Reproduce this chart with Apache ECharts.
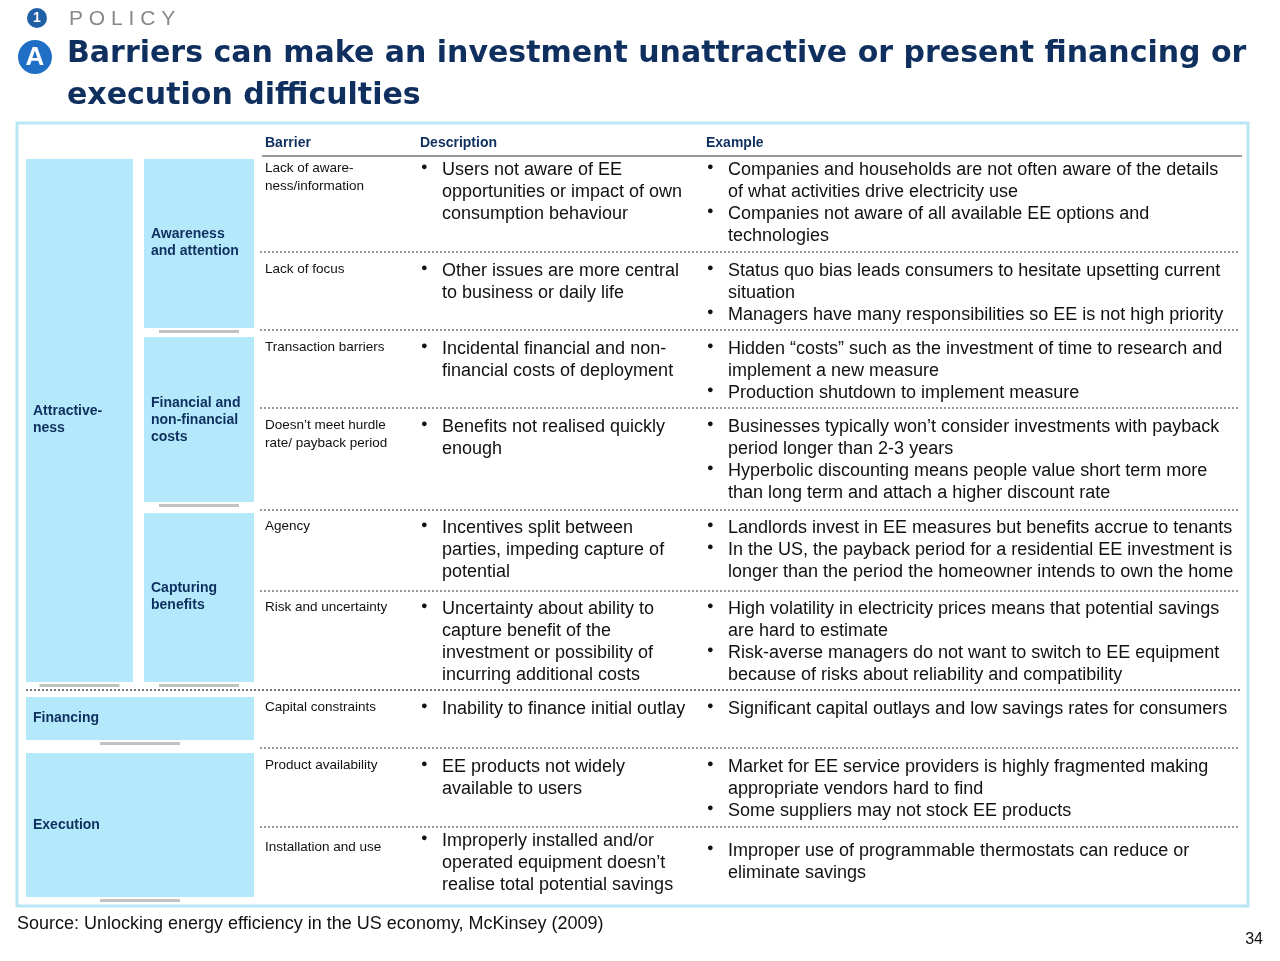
<!DOCTYPE html>
<html><head><meta charset="utf-8">
<script src="https://cdn.jsdelivr.net/npm/echarts@6/dist/echarts.min.js"></script>
<style>html,body{margin:0;padding:0;background:#fff}#c{width:1280px;height:961px}</style>
</head><body><div id="c"></div>
<script>
const titleLines = ["Barriers can make an investment unattractive or present financing or", "execution difficulties"];
const headers = ["Barrier", "Description", "Example"];
const groups = [
  {label:"Attractive-\nness", x0:26, x1:133, y0:159, y1:682, ly:420},
  {label:"Awareness\nand attention", x0:144, x1:254, y0:159, y1:328, ly:243},
  {label:"Financial and\nnon-financial\ncosts", x0:144, x1:254, y0:337, y1:502, ly:420},
  {label:"Capturing\nbenefits", x0:144, x1:254, y0:513, y1:682, ly:597},
  {label:"Financing", x0:26, x1:254, y0:697, y1:740, ly:718},
  {label:"Execution", x0:26, x1:254, y0:753, y1:897, ly:825}
];
const barriers = ["Lack of aware-\nness/information","Lack of focus","Transaction barriers","Doesn\u2019t meet hurdle\nrate/ payback period","Agency","Risk and uncertainty","Capital constraints","Product availability","Installation and use"];
const descriptions = [
  ["Users not aware of EE\nopportunities or impact of own\nconsumption behaviour"],
  ["Other issues are more central\nto business or daily life"],
  ["Incidental financial and non-\nfinancial costs of deployment"],
  ["Benefits not realised quickly\nenough"],
  ["Incentives split between\nparties, impeding capture of\npotential"],
  ["Uncertainty about ability to\ncapture benefit of the\ninvestment or possibility of\nincurring additional costs"],
  ["Inability to finance initial outlay"],
  ["EE products not widely\navailable to users"],
  ["Improperly installed and/or\noperated equipment doesn\u2019t\nrealise total potential savings"]
];
const examples = [
  ["Companies and households are not often aware of the details\nof what activities drive electricity use","Companies not aware of all available EE options and\ntechnologies"],
  ["Status quo bias leads consumers to hesitate upsetting current\nsituation","Managers have many responsibilities so EE is not high priority"],
  ["Hidden \u201ccosts\u201d such as the investment of time to research and\nimplement a new measure","Production shutdown to implement measure"],
  ["Businesses typically won\u2019t consider investments with payback\nperiod longer than 2-3 years","Hyperbolic discounting means people value short term more\nthan long term and attach a higher discount rate"],
  ["Landlords invest in EE measures but benefits accrue to tenants","In the US, the payback period for a residential EE investment is\nlonger than the period the homeowner intends to own the home"],
  ["High volatility in electricity prices means that potential savings\nare hard to estimate","Risk-averse managers do not want to switch to EE equipment\nbecause of risks about reliability and compatibility"],
  ["Significant capital outlays and low savings rates for consumers"],
  ["Market for EE service providers is highly fragmented making\nappropriate vendors hard to find","Some suppliers may not stock EE products"],
  ["Improper use of programmable thermostats can reduce or\neliminate savings"]
];
const rowTops = [159,260,338,416,517,598,698,756,830];
const rowOffsets = [[0,0,0],[0,0,0],[0,0,0],[0,0,0],[0,0,0],[0,0,0],[0,0,0],[0,0,0],[8,0,10]];
const dividers = [252,330,408,510,591,748,827];
const source = "Source: Unlocking energy efficiency in the US economy, McKinsey (2009)";
const pageNo = "34";

const NAVY = "#0f2f5f", CYAN = "#b3e9fb", BODY = "#111", FONT = "Liberation Sans, Arial, sans-serif";
const LH = 22;
const g = [];
g.push({type:'circle',shape:{cx:37,cy:18,r:10},style:{fill:'#1f5fa6'}});
g.push({type:'text',x:37,y:18,style:{text:'1',fill:'#fff',font:'bold 14px '+FONT,align:'center',verticalAlign:'middle'}});
g.push({type:'text',x:69,y:19,style:{text:'P O L I C Y',fill:'#888',font:'21px '+FONT,verticalAlign:'middle'}});
g.push({type:'circle',shape:{cx:35,cy:57,r:17},style:{fill:'#1f6fc6'}});
g.push({type:'text',x:35,y:58,style:{text:'A',fill:'#fff',font:'bold 26px '+FONT,align:'center',verticalAlign:'middle'}});
titleLines.forEach((t,i)=>g.push({type:'text',x:67,y:54+i*42,style:{text:t,fill:NAVY,font:'bold 30px "DejaVu Sans", Verdana, sans-serif',verticalAlign:'middle'}}));
g.push({type:'rect',shape:{x:17,y:123,width:1231,height:783},style:{fill:'none',stroke:'#b8e6f4',lineWidth:3}});
[265,420,706].forEach((x,i)=>g.push({type:'text',x:x,y:143,style:{text:headers[i],fill:NAVY,font:'bold 14px '+FONT,verticalAlign:'middle'}}));
g.push({type:'line',shape:{x1:262,y1:156,x2:1242,y2:156},style:{stroke:'#333',lineWidth:1}});
groups.forEach(b=>{
  g.push({type:'rect',shape:{x:b.x0,y:b.y0,width:b.x1-b.x0,height:b.y1-b.y0},style:{fill:CYAN}});
  g.push({type:'rect',shape:{x:(b.x0+b.x1)/2-40,y:b.y1+2,width:80,height:3},style:{fill:'#999',opacity:0.6}});
  g.push({type:'text',x:b.x0+7,y:b.ly,style:{text:b.label,fill:NAVY,font:'bold 14px '+FONT,verticalAlign:'middle',lineHeight:17}});
});
dividers.forEach(y=>g.push({type:'line',shape:{x1:260,y1:y,x2:1240,y2:y},style:{stroke:'#777',lineWidth:1.5,lineDash:[2,2]}}));
g.push({type:'line',shape:{x1:26,y1:690,x2:1240,y2:690},style:{stroke:'#777',lineWidth:2,lineDash:[2,2]}});
function bullets(list,x,top){
  let y=top;
  list.forEach(t=>{
    const n=t.split('\n').length;
    g.push({type:'text',x:x,y:y-3,style:{text:'\u25CF',fill:BODY,font:'11px '+FONT,lineHeight:22,verticalAlign:'top',padding:[0,0,0,0]}});
    g.push({type:'text',x:x+21,y:y,style:{text:t,fill:BODY,font:'18px '+FONT,lineHeight:LH}});
    y+=n*LH;
  });
}
barriers.forEach((t,i)=>{
  const top=rowTops[i], o=rowOffsets[i];
  g.push({type:'text',x:265,y:top+o[0],style:{text:t,fill:BODY,font:'13.5px '+FONT,lineHeight:18}});
  bullets(descriptions[i],421,top+o[1]);
  bullets(examples[i],707,top+o[2]);
});
g.push({type:'text',x:17,y:915,style:{text:source,fill:BODY,font:'18px '+FONT}});
g.push({type:'text',x:1263,y:932,style:{text:pageNo,fill:BODY,font:'16px '+FONT,align:'right'}});
const chart = echarts.init(document.getElementById('c'));
chart.setOption({animation:false,graphic:{elements:g}});
</script></body></html>
